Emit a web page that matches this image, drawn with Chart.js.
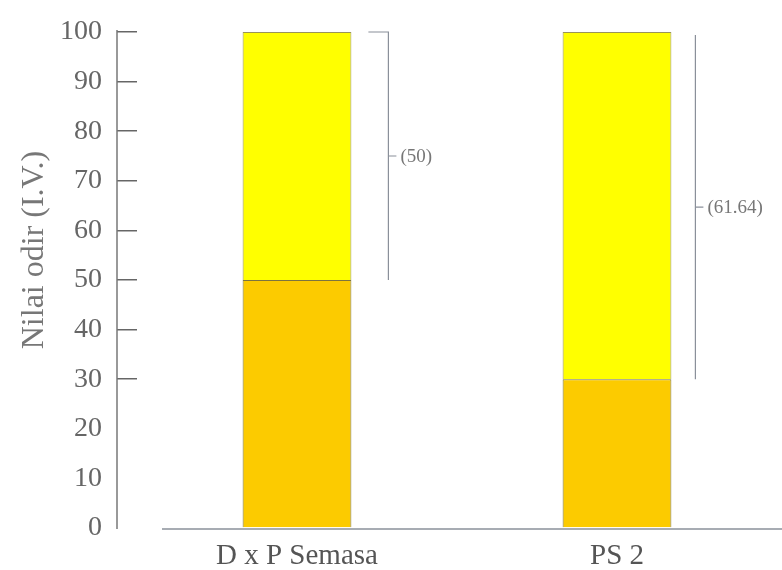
<!DOCTYPE html>
<html>
<head>
<meta charset="utf-8">
<script src="https://cdn.jsdelivr.net/npm/chart.js@4/dist/chart.umd.min.js"></script>
<style>
    body { margin: 0; background: #fff; }
    #wrap { width: 782px; height: 570px; }
</style>
</head>
<body>
<div id="wrap"><canvas id="barChart" width="782" height="570"></canvas></div>
<script>
// data
const categories = ['D x P Semasa', 'PS 2'];
const lowerValues = [50, 30];
const upperValues = [50, 70];
const bracketLabels = ['(50)', '(61.64)'];
const yTicks = [0, 10, 20, 30, 40, 50, 60, 70, 80, 90, 100];
const yTitle = 'Nilai odir (I.V.)';

// brackets + axis lines
const extras = {
    id: 'extras',
    afterDatasetsDraw: function (chart) {
        const c = chart.ctx;
        const area = chart.chartArea;
        const y = chart.scales.y;
        const meta = chart.getDatasetMeta(1);
        const gaps = [37, 24];
        const topCap = [true, false];

        c.save();
        // y axis line
        c.strokeStyle = '#777';
        c.lineWidth = 1.5;
        c.beginPath();
        c.moveTo(area.left - 20, area.top - 2);
        c.lineTo(area.left - 20, area.bottom + 1);
        c.stroke();

        // x axis line
        c.strokeStyle = '#8a909a';
        c.lineWidth = 1.5;
        c.beginPath();
        c.moveTo(area.left + 25, area.bottom + 1);
        c.lineTo(chart.width, area.bottom + 1);
        c.stroke();

        // brackets
        c.strokeStyle = '#8a909a';
        c.lineWidth = 1.2;
        c.fillStyle = '#777';
        c.font = '19px "Liberation Serif", serif';
        c.textBaseline = 'middle';
        meta.data.forEach(function (bar, i) {
            const bx = bar.x + bar.width / 2 + gaps[i];
            const yTop = y.getPixelForValue(lowerValues[i] + upperValues[i]) + (topCap[i] ? 0 : 3);
            const yBot = y.getPixelForValue(lowerValues[i]);
            const yMid = (yTop + yBot) / 2;
            c.beginPath();
            if (topCap[i]) {
                c.moveTo(bx - 20, yTop);
                c.lineTo(bx, yTop);
            } else {
                c.moveTo(bx, yTop);
            }
            c.lineTo(bx, yBot);
            c.moveTo(bx, yMid);
            c.lineTo(bx + 8, yMid);
            c.stroke();
            c.fillText(bracketLabels[i], bx + 12, yMid + 1);
        });

        // y title
        c.translate(35, 250);
        c.rotate(-Math.PI / 2);
        c.textAlign = 'center';
        c.fillStyle = '#777';
        c.font = '32px "Liberation Serif", serif';
        c.fillText(yTitle, 0, 0);
        c.restore();
    }
};

const ctx = document.getElementById('barChart').getContext('2d');
new Chart(ctx, {
    type: 'bar',
    data: {
        labels: categories,
        datasets: [{
            data: lowerValues,
            backgroundColor: '#fccb00',
            borderColor: 'rgba(80, 70, 0, 0.75)',
            borderWidth: 1,
            categoryPercentage: 1,
            barPercentage: 0.34
        }, {
            data: upperValues,
            backgroundColor: '#ffff00',
            borderColor: 'rgba(100, 90, 0, 0.65)',
            borderWidth: 1,
            categoryPercentage: 1,
            barPercentage: 0.34
        }]
    },
    options: {
        responsive: false,
        animation: false,
        layout: {
            padding: { top: 32, right: 5, bottom: 0, left: 0 }
        },
        plugins: {
            legend: { display: false },
            tooltip: { enabled: false }
        },
        scales: {
            x: {
                stacked: true,
                grid: { display: false },
                border: { display: false },
                ticks: {
                    padding: 3,
                    color: '#555',
                    font: { family: '"Liberation Serif", serif', size: 29 }
                },
                afterFit: function (scale) { scale.height = 42; }
            },
            y: {
                stacked: true,
                min: 0,
                max: 100,
                afterBuildTicks: function (scale) {
                    scale.ticks = yTicks.map(v => ({ value: v }));
                },
                grid: {
                    drawOnChartArea: false,
                    tickLength: 20,
                    lineWidth: 1.5,
                    color: c => (c.tick && c.tick.value >= 30) ? '#666' : 'rgba(0,0,0,0)'
                },
                border: { display: false },
                ticks: {
                    padding: 15,
                    color: '#666',
                    font: { family: '"Liberation Serif", serif', size: 28 }
                },
                afterFit: function (scale) { scale.width = 137; }
            }
        }
    },
    plugins: [extras]
});
</script>
</body>
</html>
